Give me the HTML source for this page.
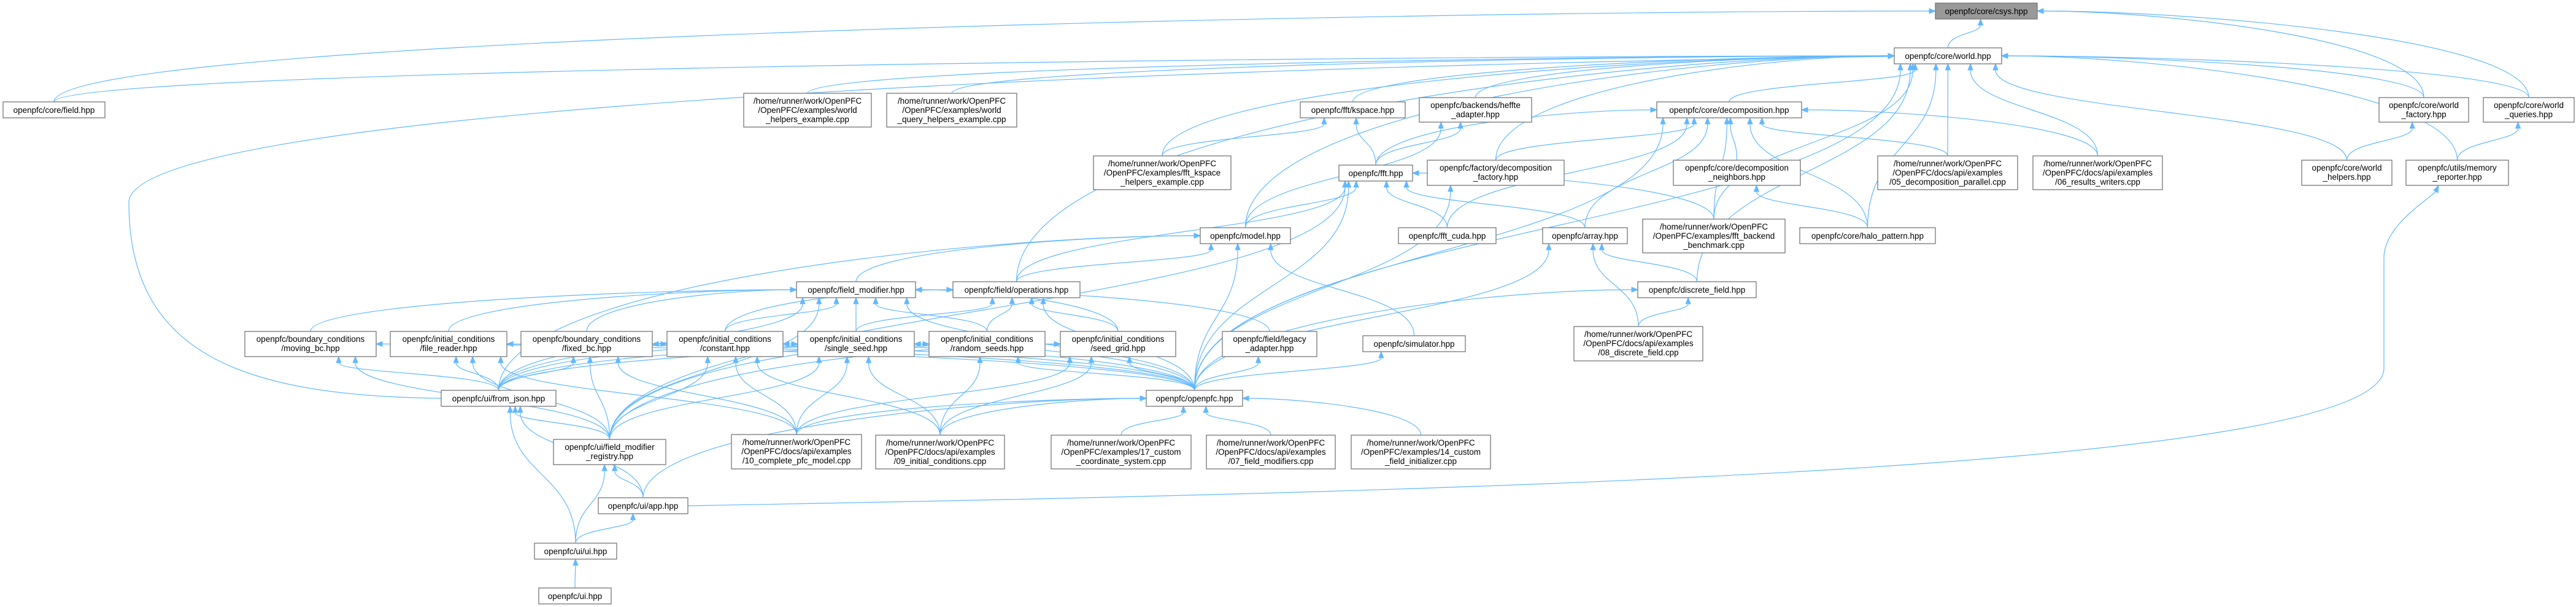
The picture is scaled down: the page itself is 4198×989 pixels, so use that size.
<!DOCTYPE html>
<html><head><meta charset="utf-8">
<style>
html,body{margin:0;padding:0;background:#fff;}
svg{display:block;}
text{font-family:"Liberation Sans",Arial,sans-serif;font-size:13.5px;fill:#000;}
.n rect{fill:#fff;stroke:#777;stroke-width:1.3;}
.e{fill:none;stroke:#63b8ff;stroke-width:1.2;}
.a{fill:#63b8ff;stroke:#63b8ff;}
</style></head>
<body>
<svg id="s" width="4198" height="989" viewBox="0 0 4198 989" xmlns="http://www.w3.org/2000/svg">
<g id="edges"></g>
<g id="manual">
<path class="e" d="M719,649 C400,645 210,580 210,330 C210,180 1800,110 3077,92"/>
<polygon class="a" points="3087,91 3077,88 3077,96"/>
<path class="e" d="M1121,824 C2500,800 3885,760 3885,600 L3885,420 C3885,370 3950,330 3970,312"/>
<polygon class="a" points="3974,302 3966,310 3973,314"/>
</g>
<g id="nodes">
<g class="n" id="csys"><rect x="3154" y="5" width="166" height="26" style="fill:#999"/><text x="3237" y="23" text-anchor="middle">openpfc/core/csys.hpp</text></g>
<g class="n" id="world"><rect x="3087" y="78" width="175" height="26"/><text x="3174.5" y="96" text-anchor="middle">openpfc/core/world.hpp</text></g>
<g class="n" id="field"><rect x="5" y="166" width="166" height="26"/><text x="88" y="184" text-anchor="middle">openpfc/core/field.hpp</text></g>
<g class="n" id="whe"><rect x="1212" y="152" width="208" height="55"/><text x="1316" y="169" text-anchor="middle">/home/runner/work/OpenPFC</text><text x="1316" y="184" text-anchor="middle">/OpenPFC/examples/world</text><text x="1316" y="199" text-anchor="middle">_helpers_example.cpp</text></g>
<g class="n" id="wqhe"><rect x="1445" y="152" width="212" height="55"/><text x="1551" y="169" text-anchor="middle">/home/runner/work/OpenPFC</text><text x="1551" y="184" text-anchor="middle">/OpenPFC/examples/world</text><text x="1551" y="199" text-anchor="middle">_query_helpers_example.cpp</text></g>
<g class="n" id="kspace"><rect x="2119" y="166" width="171" height="26"/><text x="2204.5" y="184" text-anchor="middle">openpfc/fft/kspace.hpp</text></g>
<g class="n" id="heffte"><rect x="2313" y="159" width="183" height="40"/><text x="2404.5" y="176" text-anchor="middle">openpfc/backends/heffte</text><text x="2404.5" y="191" text-anchor="middle">_adapter.hpp</text></g>
<g class="n" id="decomp"><rect x="2700" y="166" width="236" height="26"/><text x="2818" y="184" text-anchor="middle">openpfc/core/decomposition.hpp</text></g>
<g class="n" id="wfac"><rect x="3877" y="159" width="146" height="40"/><text x="3950" y="176" text-anchor="middle">openpfc/core/world</text><text x="3950" y="191" text-anchor="middle">_factory.hpp</text></g>
<g class="n" id="wq"><rect x="4047" y="159" width="148" height="40"/><text x="4121" y="176" text-anchor="middle">openpfc/core/world</text><text x="4121" y="191" text-anchor="middle">_queries.hpp</text></g>
<g class="n" id="fkhe"><rect x="1782" y="254" width="224" height="55"/><text x="1894" y="271" text-anchor="middle">/home/runner/work/OpenPFC</text><text x="1894" y="286" text-anchor="middle">/OpenPFC/examples/fft_kspace</text><text x="1894" y="301" text-anchor="middle">_helpers_example.cpp</text></g>
<g class="n" id="fft"><rect x="2182" y="269" width="120" height="26"/><text x="2242" y="287" text-anchor="middle">openpfc/fft.hpp</text></g>
<g class="n" id="dfac"><rect x="2326" y="261" width="223" height="41"/><text x="2437.5" y="278" text-anchor="middle">openpfc/factory/decomposition</text><text x="2437.5" y="293" text-anchor="middle">_factory.hpp</text></g>
<g class="n" id="neigh"><rect x="2727" y="261" width="207" height="41"/><text x="2830.5" y="278" text-anchor="middle">openpfc/core/decomposition</text><text x="2830.5" y="293" text-anchor="middle">_neighbors.hpp</text></g>
<g class="n" id="e05"><rect x="3060" y="254" width="228" height="55"/><text x="3174" y="271" text-anchor="middle">/home/runner/work/OpenPFC</text><text x="3174" y="286" text-anchor="middle">/OpenPFC/docs/api/examples</text><text x="3174" y="301" text-anchor="middle">/05_decomposition_parallel.cpp</text></g>
<g class="n" id="e06"><rect x="3313" y="254" width="211" height="55"/><text x="3418.5" y="271" text-anchor="middle">/home/runner/work/OpenPFC</text><text x="3418.5" y="286" text-anchor="middle">/OpenPFC/docs/api/examples</text><text x="3418.5" y="301" text-anchor="middle">/06_results_writers.cpp</text></g>
<g class="n" id="whelp"><rect x="3751" y="261" width="147" height="41"/><text x="3824.5" y="278" text-anchor="middle">openpfc/core/world</text><text x="3824.5" y="293" text-anchor="middle">_helpers.hpp</text></g>
<g class="n" id="mem"><rect x="3921" y="261" width="167" height="41"/><text x="4004.5" y="278" text-anchor="middle">openpfc/utils/memory</text><text x="4004.5" y="293" text-anchor="middle">_reporter.hpp</text></g>
<g class="n" id="model"><rect x="1956" y="371" width="147" height="26"/><text x="2029.5" y="389" text-anchor="middle">openpfc/model.hpp</text></g>
<g class="n" id="fftcuda"><rect x="2279" y="371" width="159" height="26"/><text x="2358.5" y="389" text-anchor="middle">openpfc/fft_cuda.hpp</text></g>
<g class="n" id="array"><rect x="2514" y="371" width="138" height="26"/><text x="2583" y="389" text-anchor="middle">openpfc/array.hpp</text></g>
<g class="n" id="fbb"><rect x="2677" y="357" width="232" height="55"/><text x="2793" y="374" text-anchor="middle">/home/runner/work/OpenPFC</text><text x="2793" y="389" text-anchor="middle">/OpenPFC/examples/fft_backend</text><text x="2793" y="404" text-anchor="middle">_benchmark.cpp</text></g>
<g class="n" id="halo"><rect x="2933" y="371" width="221" height="26"/><text x="3043.5" y="389" text-anchor="middle">openpfc/core/halo_pattern.hpp</text></g>
<g class="n" id="fmod"><rect x="1298" y="459" width="194" height="26"/><text x="1395" y="477" text-anchor="middle">openpfc/field_modifier.hpp</text></g>
<g class="n" id="ops"><rect x="1553" y="459" width="207" height="26"/><text x="1656.5" y="477" text-anchor="middle">openpfc/field/operations.hpp</text></g>
<g class="n" id="disc"><rect x="2669" y="459" width="193" height="26"/><text x="2765.5" y="477" text-anchor="middle">openpfc/discrete_field.hpp</text></g>
<g class="n" id="mbc"><rect x="399" y="540" width="214" height="41"/><text x="506" y="557" text-anchor="middle">openpfc/boundary_conditions</text><text x="506" y="572" text-anchor="middle">/moving_bc.hpp</text></g>
<g class="n" id="fr"><rect x="636" y="540" width="190" height="41"/><text x="731" y="557" text-anchor="middle">openpfc/initial_conditions</text><text x="731" y="572" text-anchor="middle">/file_reader.hpp</text></g>
<g class="n" id="fbc"><rect x="849" y="540" width="214" height="41"/><text x="956" y="557" text-anchor="middle">openpfc/boundary_conditions</text><text x="956" y="572" text-anchor="middle">/fixed_bc.hpp</text></g>
<g class="n" id="const"><rect x="1087" y="540" width="189" height="41"/><text x="1181.5" y="557" text-anchor="middle">openpfc/initial_conditions</text><text x="1181.5" y="572" text-anchor="middle">/constant.hpp</text></g>
<g class="n" id="ss"><rect x="1300" y="540" width="190" height="41"/><text x="1395" y="557" text-anchor="middle">openpfc/initial_conditions</text><text x="1395" y="572" text-anchor="middle">/single_seed.hpp</text></g>
<g class="n" id="rs"><rect x="1514" y="540" width="189" height="41"/><text x="1608.5" y="557" text-anchor="middle">openpfc/initial_conditions</text><text x="1608.5" y="572" text-anchor="middle">/random_seeds.hpp</text></g>
<g class="n" id="sg"><rect x="1728" y="540" width="188" height="41"/><text x="1822" y="557" text-anchor="middle">openpfc/initial_conditions</text><text x="1822" y="572" text-anchor="middle">/seed_grid.hpp</text></g>
<g class="n" id="legacy"><rect x="1992" y="540" width="154" height="41"/><text x="2069" y="557" text-anchor="middle">openpfc/field/legacy</text><text x="2069" y="572" text-anchor="middle">_adapter.hpp</text></g>
<g class="n" id="sim"><rect x="2221" y="547" width="167" height="26"/><text x="2304.5" y="565" text-anchor="middle">openpfc/simulator.hpp</text></g>
<g class="n" id="e08"><rect x="2565" y="532" width="210" height="56"/><text x="2670" y="549" text-anchor="middle">/home/runner/work/OpenPFC</text><text x="2670" y="564" text-anchor="middle">/OpenPFC/docs/api/examples</text><text x="2670" y="579" text-anchor="middle">/08_discrete_field.cpp</text></g>
<g class="n" id="fj"><rect x="719" y="636" width="187" height="26"/><text x="812.5" y="654" text-anchor="middle">openpfc/ui/from_json.hpp</text></g>
<g class="n" id="opf"><rect x="1868" y="636" width="157" height="26"/><text x="1946.5" y="654" text-anchor="middle">openpfc/openpfc.hpp</text></g>
<g class="n" id="reg"><rect x="902" y="716" width="183" height="41"/><text x="993.5" y="733" text-anchor="middle">openpfc/ui/field_modifier</text><text x="993.5" y="748" text-anchor="middle">_registry.hpp</text></g>
<g class="n" id="e10"><rect x="1192" y="708" width="212" height="56"/><text x="1298" y="725" text-anchor="middle">/home/runner/work/OpenPFC</text><text x="1298" y="740" text-anchor="middle">/OpenPFC/docs/api/examples</text><text x="1298" y="755" text-anchor="middle">/10_complete_pfc_model.cpp</text></g>
<g class="n" id="e09"><rect x="1427" y="709" width="210" height="55"/><text x="1532" y="726" text-anchor="middle">/home/runner/work/OpenPFC</text><text x="1532" y="741" text-anchor="middle">/OpenPFC/docs/api/examples</text><text x="1532" y="756" text-anchor="middle">/09_initial_conditions.cpp</text></g>
<g class="n" id="e17"><rect x="1713" y="709" width="228" height="55"/><text x="1827" y="726" text-anchor="middle">/home/runner/work/OpenPFC</text><text x="1827" y="741" text-anchor="middle">/OpenPFC/examples/17_custom</text><text x="1827" y="756" text-anchor="middle">_coordinate_system.cpp</text></g>
<g class="n" id="e07"><rect x="1966" y="709" width="210" height="55"/><text x="2071" y="726" text-anchor="middle">/home/runner/work/OpenPFC</text><text x="2071" y="741" text-anchor="middle">/OpenPFC/docs/api/examples</text><text x="2071" y="756" text-anchor="middle">/07_field_modifiers.cpp</text></g>
<g class="n" id="e14"><rect x="2202" y="709" width="227" height="55"/><text x="2315.5" y="726" text-anchor="middle">/home/runner/work/OpenPFC</text><text x="2315.5" y="741" text-anchor="middle">/OpenPFC/examples/14_custom</text><text x="2315.5" y="756" text-anchor="middle">_field_initializer.cpp</text></g>
<g class="n" id="app"><rect x="975" y="811" width="146" height="26"/><text x="1048" y="829" text-anchor="middle">openpfc/ui/app.hpp</text></g>
<g class="n" id="uiui"><rect x="871" y="885" width="134" height="26"/><text x="938" y="903" text-anchor="middle">openpfc/ui/ui.hpp</text></g>
<g class="n" id="ui"><rect x="878" y="958" width="118" height="26"/><text x="937" y="976" text-anchor="middle">openpfc/ui.hpp</text></g>
</g>
</svg>
<script>
(function(){
var E=[
"world csys","wfac csys","wq csys","field csys",
"field world","whe world","wqhe world","kspace world","heffte world","decomp world","fkhe world","model world","ops world","dfac world","e05 world","e06 world","wfac world","wq world","whelp world","mem world","fbb world","halo world","disc world","opf world",
"neigh decomp","fft decomp","dfac decomp","e05 decomp","e06 decomp","halo decomp","array decomp","fbb decomp","opf decomp","fftcuda decomp",
"halo neigh","fkhe kspace","fft kspace","model heffte","fft heffte","opf dfac",
"reg fft","model fft","fftcuda fft","array fft","fbb fft","ops fft","opf fft",
"fmod model","ops model","opf model","sim model","fj model",
"disc array","e08 array","opf array","e08 disc","opf disc",
"whelp wfac","mem wq",
"mbc fmod","fr fmod","fbc fmod","const fmod","ss fmod","rs fmod","sg fmod","legacy fmod","fj fmod","reg fmod","opf fmod",
"const ops","ss ops","rs ops","sg ops","opf ops",
"opf mbc","opf fr","opf fbc","opf const","opf ss","opf rs","opf sg","opf legacy","opf sim",
"fj mbc","fj fr","fj fbc","fj const","fj ss","fj rs","fj sg",
"reg mbc","reg fr","reg fbc","reg const","reg ss","reg rs","reg sg","reg fj",
"e10 fr","e10 fbc","e10 const","e10 ss","e10 sg","e10 opf",
"e09 const","e09 ss","e09 rs","e09 sg","e09 opf",
"e17 opf","e07 opf","e14 opf",
"app reg","app fj","app opf",
"uiui app","uiui reg","uiui fj","ui uiui"];
function box(id){var r=document.querySelector('#'+id+' rect');return {x:+r.getAttribute('x'),y:+r.getAttribute('y'),w:+r.getAttribute('width'),h:+r.getAttribute('height')};}
var g=document.getElementById('edges'),h='';
E.forEach(function(s){
 var p=s.split(' '),a=box(p[0]),b=box(p[1]);
 var sx=a.x+a.w/2,sy=a.y,tx,ty,c1x,c1y,c2x,c2y;
 var bcx=b.x+b.w/2,bby=b.y+b.h;
 if(sy<bby+5){
   sy=a.y+a.h/2; if(bcx<sx){sx=a.x;tx=b.x+b.w;}else{sx=a.x+a.w;tx=b.x;} ty=b.y+b.h/2;
   c1x=sx+(tx-sx)*0.4;c1y=sy;c2x=tx-(tx-sx)*0.3;c2y=ty;
 } else if(Math.abs(bcx-sx)>3*(sy-bby)+200){
   tx=(bcx<sx)?b.x+b.w:b.x; ty=b.y+b.h/2;
   c1x=sx;c1y=sy-(sy-ty)*0.7;c2x=tx+(sx-tx)*0.3;c2y=ty;
 } else {
   tx=Math.max(b.x+10,Math.min(b.x+b.w-10,bcx+(sx-bcx)*0.15));ty=bby;
   var d=(sy-ty)/2;c1x=sx;c1y=sy-d;c2x=tx;c2y=ty+d;
 }
 var dx=tx-c2x,dy=ty-c2y,L=Math.sqrt(dx*dx+dy*dy)||1;dx/=L;dy/=L;
 var al=10,aw=4,ex=tx-dx*al,ey=ty-dy*al;
 h+='<path class="e" d="M'+sx+','+sy+' C'+c1x+','+c1y+' '+c2x+','+c2y+' '+ex+','+ey+'"/>';
 h+='<polygon class="a" points="'+tx+','+ty+' '+(ex-dy*aw)+','+(ey+dx*aw)+' '+(ex+dy*aw)+','+(ey-dx*aw)+'"/>';
});
g.innerHTML=h;
})();
</script>
</body></html>
